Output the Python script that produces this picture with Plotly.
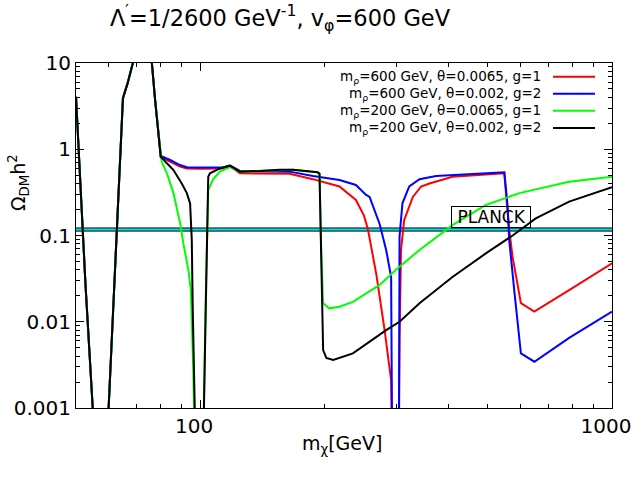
import plotly.graph_objects as go

# ---------------- data ----------------
# shared low-mass part (all four curves coincide)
low_m = [50.0, 51.2, 52.7, 54.9, 57.4, 60.0, 61.1, 62.8, 64.0, 65.0, 66.7, 68.7, 73.5, 76.4, 77.8, 80.0, 80.3]
low_om = [4.06, 0.40, 0.028, 0.001, 0.0001, 0.001, 0.0067, 0.116, 0.98, 3.9, 5.8, 10.0, 28.0, 10.0, 3.73, 0.98, 0.82]

red_m = [84.6, 89.4, 92.9, 100, 114, 118.2, 125, 140, 165, 188, 199, 218, 239, 250, 255.6, 268,
         280.6, 291, 293.5, 303, 305, 307.5, 313, 328.6, 344, 360.5, 410, 476, 547.6, 563, 573.6,
         601, 647.7, 787, 1000]
red_om = [0.72, 0.63, 0.60, 0.595, 0.60, 0.635, 0.526, 0.52, 0.52, 0.45, 0.42, 0.37, 0.258, 0.17, 0.118, 0.035,
          0.008, 0.0021, 0.0001, 0.0001, 0.0062, 0.068, 0.151, 0.28, 0.37, 0.40, 0.48, 0.50, 0.526, 0.116, 0.057,
          0.0164, 0.0131, 0.0233, 0.0476]

blue_m = [84.6, 89.4, 92.9, 100, 114, 118.2, 125, 140, 165, 188, 218, 239, 253, 258, 273, 283, 291,
          294, 303.5, 305, 310, 322, 341, 374, 451, 548, 558, 563, 579, 601, 648, 787, 1000]
blue_om = [0.75, 0.656, 0.62, 0.615, 0.62, 0.645, 0.56, 0.56, 0.55, 0.49, 0.44, 0.385, 0.295, 0.28, 0.135, 0.068, 0.033,
           0.00001, 0.00001, 0.097, 0.236, 0.37, 0.45, 0.49, 0.51, 0.54, 0.216, 0.089, 0.0233, 0.0043, 0.00344, 0.0065, 0.0131]

green_m = [80.7, 83.1, 86.2, 89.5, 91.1, 93.7, 95.0, 96.0, 96.7, 99.0, 102.2, 103.2, 104.7, 107.7, 111.8, 118.2,
           125, 140, 156, 168, 193, 195, 197, 199, 206, 218, 235, 258, 273, 299, 341, 410, 494, 596, 787, 1000]
green_om = [0.72, 0.526, 0.31, 0.138, 0.081, 0.04, 0.0233, 0.0047, 0.001, 0.00001, 0.001, 0.0179, 0.337, 0.45, 0.55, 0.62,
            0.55, 0.56, 0.58, 0.58, 0.54, 0.52, 0.06, 0.0164, 0.0143, 0.0149, 0.017, 0.0223, 0.0267, 0.04, 0.068, 0.132,
            0.226, 0.31, 0.42, 0.48]

black_m = [83.1, 86.2, 90.3, 92.9, 94.6, 95.5, 96.0, 96.7, 99.0, 102.2, 103.2, 104.7, 105.7, 111.8, 118.2,
           125, 140, 156, 168, 193, 195, 197, 199, 202.6, 210.5, 235, 263, 283, 305, 341, 410, 494, 574, 653, 787, 1000]
black_om = [0.687, 0.574, 0.40, 0.31, 0.236, 0.089, 0.015, 0.001, 0.00001, 0.001, 0.0179, 0.48, 0.526, 0.60, 0.645,
            0.55, 0.56, 0.58, 0.58, 0.54, 0.52, 0.03, 0.0047, 0.0038, 0.0036, 0.0043, 0.00625, 0.008, 0.01, 0.0164, 0.033,
            0.062, 0.10, 0.158, 0.247, 0.362]

red_pre = [0.80]
blue_pre = [0.835]

planck_m = [50, 1000]
planck_lo = [0.1125, 0.1125]
planck_hi = [0.1222, 0.1222]

legend_labels = [
    "m<sub>ρ</sub>=600 GeV, θ=0.0065, g=1",
    "m<sub>ρ</sub>=600 GeV, θ=0.002, g=2",
    "m<sub>ρ</sub>=200 GeV, θ=0.0065, g=1",
    "m<sub>ρ</sub>=200 GeV, θ=0.002, g=2",
]
colors = ["#ff0000", "#0000ff", "#00ff00", "#000000"]

x_tickvals = [100, 1000]
x_ticktext = ["100", "1000"]
x_minor = [60, 70, 80, 90, 200, 300, 400, 500, 600, 700, 800, 900]
y_tickvals = [0.001, 0.01, 0.1, 1, 10]
y_ticktext = ["0.001", "0.01", "0.1", "1", "10"]
y_minor = [m * 10.0 ** e for e in (-3, -2, -1, 0) for m in (2, 3, 4, 5, 6, 7, 8, 9)]

# ---------------- figure ----------------
FONT = "DejaVu Sans"
fig = go.Figure()

# Planck band
fig.add_trace(go.Scatter(x=planck_m, y=planck_lo, mode="lines",
                         line=dict(color="black", width=1), showlegend=False, hoverinfo="skip"))
fig.add_trace(go.Scatter(x=planck_m, y=planck_hi, mode="lines", fill="tonexty",
                         fillcolor="#00e5ee", line=dict(color="black", width=1),
                         showlegend=False, hoverinfo="skip"))

series = [
    (low_m + red_m, low_om[:-1] + red_pre + red_om),
    (low_m + blue_m, low_om[:-1] + blue_pre + blue_om),
    (low_m + green_m, low_om + green_om),
    (low_m + black_m, low_om + black_om),
]
for (xs, ys), c, name in zip(series, colors, legend_labels):
    fig.add_trace(go.Scatter(x=xs, y=ys, mode="lines", line=dict(color=c, width=2),
                             name=name, showlegend=False))

# custom gnuplot-style legend (text right, sample to its right)
L, R, T, B = 76, 612, 63, 408
def px(xp):
    return (xp - L) / (R - L)
def py(yp):
    return (B - yp) / (B - T)
rows = [76.7, 93.7, 110.7, 128.0]
for lab, c, yr in zip(legend_labels, colors, rows):
    fig.add_annotation(xref="paper", yref="paper", x=px(543), y=py(yr), text=lab,
                       showarrow=False, xanchor="right", yanchor="middle",
                       font=dict(family=FONT, size=13.5, color="black"))
    fig.add_shape(type="line", xref="paper", yref="paper", x0=px(553), x1=px(595),
                  y0=py(yr), y1=py(yr), line=dict(color=c, width=2))

# PLANCK label
fig.add_annotation(xref="x", yref="y", x=2.707, y=-0.78, text="\u00a0PLANCK\u00a0", showarrow=False,
                   font=dict(family=FONT, size=17, color="black"),
                   bordercolor="black", borderwidth=1, borderpad=0)

# axis titles as annotations (placed like the reference)
fig.add_annotation(xref="paper", yref="paper", x=px(342), y=py(444), text="m<sub>χ</sub>[GeV]",
                   showarrow=False, xanchor="center", yanchor="middle",
                   font=dict(family=FONT, size=19, color="black"))
fig.add_annotation(xref="paper", yref="paper", x=px(18), y=py(183), text="Ω<sub>DM</sub>h<sup>2</sup>",
                   showarrow=False, xanchor="center", yanchor="middle", textangle=-90,
                   font=dict(family=FONT, size=19, color="black"))

fig.update_layout(
    width=640, height=480,
    margin=dict(l=L, r=640 - R, t=T, b=480 - B, autoexpand=False),
    paper_bgcolor="white", plot_bgcolor="white",
    font=dict(family=FONT, color="black"),
    title=dict(text="Λ<sup>′</sup>=1/2600 GeV<sup>-1</sup>, v<sub>φ</sub>=600 GeV",
               x=280 / 640, xanchor="center", xref="container",
               y=1 - 18 / 480, yanchor="middle", yref="container",
               font=dict(family=FONT, size=22.5, color="black")),
    showlegend=False,
)
common = dict(showgrid=False, zeroline=False, showline=True, linecolor="black", linewidth=1,
              ticks="inside", ticklen=8, tickcolor="black", tickmode="array", automargin=False)
fig.update_layout(
    xaxis=dict(type="log", range=[1.69897, 3.0], mirror=True,
               tickvals=x_tickvals, ticktext=x_ticktext, ticklabelshift=-6,
               tickfont=dict(family=FONT, size=20),
               minor=dict(tickmode="array", tickvals=x_minor, ticks="inside", ticklen=4,
                          tickcolor="black", showgrid=False),
               **common),
    xaxis2=dict(type="log", range=[1.69897, 3.0], overlaying="x", side="top", anchor="y",
                tickvals=x_tickvals, showticklabels=False,
                minor=dict(tickmode="array", tickvals=x_minor, ticks="inside", ticklen=4,
                           tickcolor="black", showgrid=False),
                **common),
    yaxis=dict(type="log", range=[-3, 1], mirror=True,
               tickvals=y_tickvals, ticktext=y_ticktext,
               tickfont=dict(family=FONT, size=20),
               minor=dict(tickmode="array", tickvals=y_minor, ticks="inside", ticklen=4,
                          tickcolor="black", showgrid=False),
               **common),
    yaxis2=dict(type="log", range=[-3, 1], overlaying="y", side="right", anchor="x",
                tickvals=y_tickvals, showticklabels=False,
                minor=dict(tickmode="array", tickvals=y_minor, ticks="inside", ticklen=4,
                           tickcolor="black", showgrid=False),
                **common),
)
# invisible carrier trace so the mirrored tick axes are drawn
fig.add_trace(go.Scatter(x=planck_m, y=planck_lo, xaxis="x2", yaxis="y2", mode="lines",
                         line=dict(width=0, color="rgba(0,0,0,0)"), showlegend=False, hoverinfo="skip"))

fig.write_html("out.html", config={"displayModeBar": False},
               post_script="document.body.style.margin='0';document.body.style.overflow='hidden';")
